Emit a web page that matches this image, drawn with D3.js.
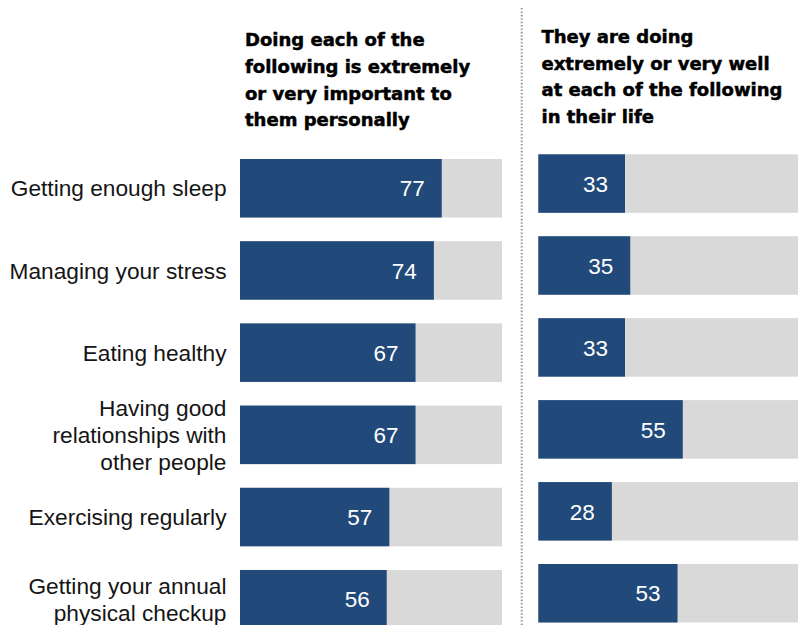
<!DOCTYPE html>
<html>
<head>
<meta charset="utf-8">
<script src="https://cdn.jsdelivr.net/npm/d3@7"></script>
<style>
  html, body { margin: 0; padding: 0; background: #fff; }
  svg { display: block; }
</style>
</head>
<body>
<svg id="chart" width="798" height="625"></svg>
<script>
// Survey items, one row per item; each label is split into its display lines
const categories = [
  "Getting enough sleep",
  "Managing your stress",
  "Eating healthy",
  "Having good relationships with other people",
  "Exercising regularly",
  "Getting your annual physical checkup"
];
const categoryLines = [
  ["Getting enough sleep"],
  ["Managing your stress"],
  ["Eating healthy"],
  ["Having good", "relationships with", "other people"],
  ["Exercising regularly"],
  ["Getting your annual", "physical checkup"]
];

// Percent saying each is extremely/very important
const importantValues = [77, 74, 67, 67, 57, 56];
// Percent saying they are doing extremely/very well at each
const doingWellValues = [33, 35, 33, 55, 28, 53];

const leftTitle = ["Doing each of the", "following is extremely", "or very important to", "them personally"];
const rightTitle = ["They are doing", "extremely or very well", "at each of the following", "in their life"];

const BLUE = "#214a7b";
const TRACK = "#d9d9d9";
const LABEL_FONT = "'Liberation Sans', Arial, sans-serif";
const TITLE_FONT = "'DejaVu Sans', sans-serif";

const svg = d3.select("#chart");

function panel(opts) {
  const x = d3.scaleLinear().domain([0, 100]).range(opts.xRange);
  const y = d3.scaleBand().domain(categories).range(opts.yRange)
    .paddingInner(opts.padInner).paddingOuter(0);

  const g = svg.append("g");

  // column heading
  const t = g.append("text")
    .attr("x", opts.titleX)
    .attr("y", opts.titleY)
    .attr("font-family", TITLE_FONT)
    .attr("font-weight", "bold")
    .attr("font-size", 18)
    .attr("fill", "#000")
    .attr("stroke", "#000")
    .attr("stroke-width", 0.5);
  opts.title.forEach((line, i) => {
    t.append("tspan").attr("x", opts.titleX).attr("dy", i === 0 ? 0 : 26.7).text(line);
  });

  const rows = g.selectAll("g.row")
    .data(categories.map((c, i) => ({ c, v: opts.values[i] })))
    .join("g").attr("class", "row");

  // full-width track
  rows.append("rect")
    .attr("x", x(0))
    .attr("y", d => y(d.c))
    .attr("width", x(100) - x(0))
    .attr("height", y.bandwidth())
    .attr("fill", TRACK);

  // value bar
  rows.append("rect")
    .attr("x", x(0))
    .attr("y", d => y(d.c))
    .attr("width", d => x(d.v) - x(0))
    .attr("height", y.bandwidth())
    .attr("fill", BLUE);

  // value label inside bar end
  rows.append("text")
    .attr("x", d => x(d.v) - 17)
    .attr("y", d => y(d.c) + y.bandwidth() / 2 + 8.2)
    .attr("text-anchor", "end")
    .attr("font-family", LABEL_FONT)
    .attr("font-size", 22.5)
    .attr("fill", "#fff")
    .text(d => d.v);

  return y;
}

const yLeft = panel({
  xRange: [240, 502],
  yRange: [159, 628.5],
  padInner: 0.288,
  values: importantValues,
  title: leftTitle,
  titleX: 245,
  titleY: 46.2
});

panel({
  xRange: [538.3, 801],
  yRange: [154.3, 622.5],
  padInner: 0.286,
  values: doingWellValues,
  title: rightTitle,
  titleX: 541.5,
  titleY: 42.8
});

// category labels, right-aligned against the left bars
const lineH = 27;
svg.append("g").selectAll("text")
  .data(categories)
  .join("text")
  .attr("text-anchor", "end")
  .attr("font-family", LABEL_FONT)
  .attr("font-size", 22.7)
  .attr("fill", "#151515")
  .each(function (c, i) {
    const lines = categoryLines[i];
    const mid = yLeft(c) + yLeft.bandwidth() / 2;
    const first = mid - (lines.length - 1) * lineH / 2 + 8.2;
    d3.select(this).selectAll("tspan")
      .data(lines)
      .join("tspan")
      .attr("x", 226.5)
      .attr("y", (l, j) => first + j * lineH)
      .text(l => l);
  });

// dotted divider between the two columns
svg.append("line")
  .attr("x1", 521.7).attr("x2", 521.7)
  .attr("y1", 8).attr("y2", 625)
  .attr("stroke", "#9a9a9a")
  .attr("stroke-width", 2)
  .attr("stroke-dasharray", "1.6,1.8");
</script>
</body>
</html>
